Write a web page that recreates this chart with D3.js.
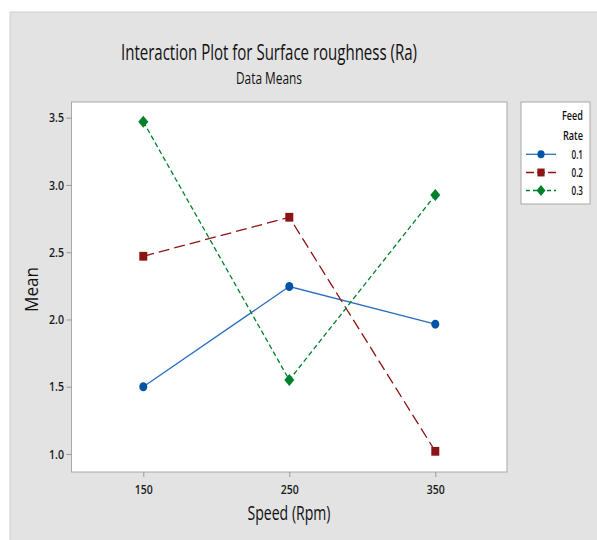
<!DOCTYPE html>
<html><head><meta charset="utf-8">
<script src="https://cdn.jsdelivr.net/npm/d3@7"></script>
<style>body{margin:0;background:#fff;} text{font-family:"Open Sans","Noto Sans",sans-serif;}</style>
</head><body>
<svg id="c" width="597" height="540"></svg>
<script>
const speeds = [150, 250, 350];
const feedRates = ["0.1", "0.2", "0.3"];
const mean01 = [1.50, 2.245, 1.965];
const mean02 = [2.47, 2.76, 1.02];
const mean03 = [3.47, 1.55, 2.925];
const yTicks = [1.0, 1.5, 2.0, 2.5, 3.0, 3.5];
const colors = ["#0054a6", "#8b1414", "#00802b"];
const lineColors = ["#2a6fbf", "#8b1414", "#00802b"];
const dashes = [null, "11,5", "5,3"];
const series = [mean01, mean02, mean03];

function marker(k, s){
  if(k===0) return `M${-4*s},0a${4*s},${4.5*s} 0 1,0 ${8*s},0a${4*s},${4.5*s} 0 1,0 ${-8*s},0Z`;
  if(k===1) return `M${-4*s},${-4.4*s}h${8*s}v${8.8*s}h${-8*s}Z`;
  return `M0,${-6*s}L${5*s},0L0,${6*s}L${-5*s},0Z`;
}

const svg = d3.select("#c");
svg.append("rect").attr("x",10).attr("y",12).attr("width",600).attr("height",540)
  .attr("fill","#e3e3e3").attr("stroke","#cfcfcf").attr("stroke-width",1);

const L=71.5, T=102, R=507, B=472;
const x = d3.scaleLinear().domain([150,350]).range([143.3,435.3]);
const y = d3.scaleLinear().domain([1.0,3.5]).range([454,117.7]);

svg.append("rect").attr("x",L).attr("y",T).attr("width",R-L).attr("height",B-T)
  .attr("fill","#fff").attr("stroke","#a8a8a8").attr("stroke-width",1);

function fit(sel,w){sel.attr("textLength",w).attr("lengthAdjust","spacingAndGlyphs");}

const yAxis = d3.axisLeft(y).tickValues(yTicks).tickFormat(d3.format(".1f")).tickSize(5).tickPadding(2);
const gy = svg.append("g").attr("transform",`translate(${L},0)`).call(yAxis);
gy.select(".domain").remove();
gy.selectAll("line").attr("stroke","#999");
gy.selectAll("text").attr("font-size",13).attr("font-weight",600).attr("fill","#1a1a1a")
  .attr("x",-7.5).call(fit,15);

const xAxis = d3.axisBottom(x).tickValues(speeds).tickFormat(d3.format("d")).tickSize(5).tickPadding(8);
const gx = svg.append("g").attr("transform",`translate(0,${B})`).call(xAxis);
gx.select(".domain").remove();
gx.selectAll("line").attr("stroke","#999");
gx.selectAll("text").attr("font-size",13).attr("font-weight",600).attr("fill","#1a1a1a").attr("dy",null).attr("y",22).call(fit,18);

const line = d3.line().x((d,i)=>x(speeds[i])).y(d=>y(d));
series.forEach((s,k)=>{
  svg.append("path").datum(s).attr("d",line).attr("fill","none")
    .attr("stroke",lineColors[k]).attr("stroke-width",1.3)
    .attr("stroke-dasharray",dashes[k]);
});
series.forEach((s,k)=>{
  svg.append("g").selectAll("path").data(s).join("path")
    .attr("d",marker(k,1))
    .attr("transform",(d,i)=>`translate(${x(speeds[i])},${y(d)})`)
    .attr("fill",colors[k]);
});

svg.append("text").attr("x",269).attr("y",60).attr("text-anchor","middle").attr("font-size",22.5).attr("fill","#111")
  .text("Interaction Plot for Surface roughness (Ra)").call(fit,296);
svg.append("text").attr("x",269).attr("y",84).attr("text-anchor","middle").attr("font-size",15.5).attr("fill","#111")
  .text("Data Means").call(fit,66);
svg.append("text").attr("x",289).attr("y",520).attr("text-anchor","middle").attr("font-size",20).attr("fill","#111")
  .text("Speed (Rpm)").call(fit,83);
svg.append("text").attr("transform","translate(38,289.5) rotate(-90)").attr("text-anchor","middle").attr("font-size",19).attr("fill","#111")
  .text("Mean").call(fit,45);

const lg = svg.append("g");
lg.append("rect").attr("x",521).attr("y",102).attr("width",69).attr("height",102)
  .attr("fill","#fff").attr("stroke","#a8a8a8");
lg.append("text").attr("x",583).attr("y",119.5).attr("text-anchor","end").attr("font-size",12.5).attr("font-weight",600).attr("fill","#111").text("Feed").call(fit,21);
lg.append("text").attr("x",583).attr("y",140).attr("text-anchor","end").attr("font-size",12.5).attr("font-weight",600).attr("fill","#111").text("Rate").call(fit,20);
const legY=[154.3,172.5,190.5];
feedRates.forEach((f,k)=>{
  const yy=legY[k];
  lg.append("line").attr("x1",526).attr("x2",556).attr("y1",yy).attr("y2",yy)
    .attr("stroke",lineColors[k]).attr("stroke-width",1.3).attr("stroke-dasharray",k==1?"8,3":(k==2?"4,3":null));
  lg.append("path").attr("d",marker(k,0.9))
    .attr("transform",`translate(541,${yy})`).attr("fill",colors[k]);
  lg.append("text").attr("x",583).attr("y",yy+4.5).attr("text-anchor","end").attr("font-size",13).attr("font-weight",600).attr("fill","#111").text(f).call(fit,11.5);
});
</script>
</body></html>
